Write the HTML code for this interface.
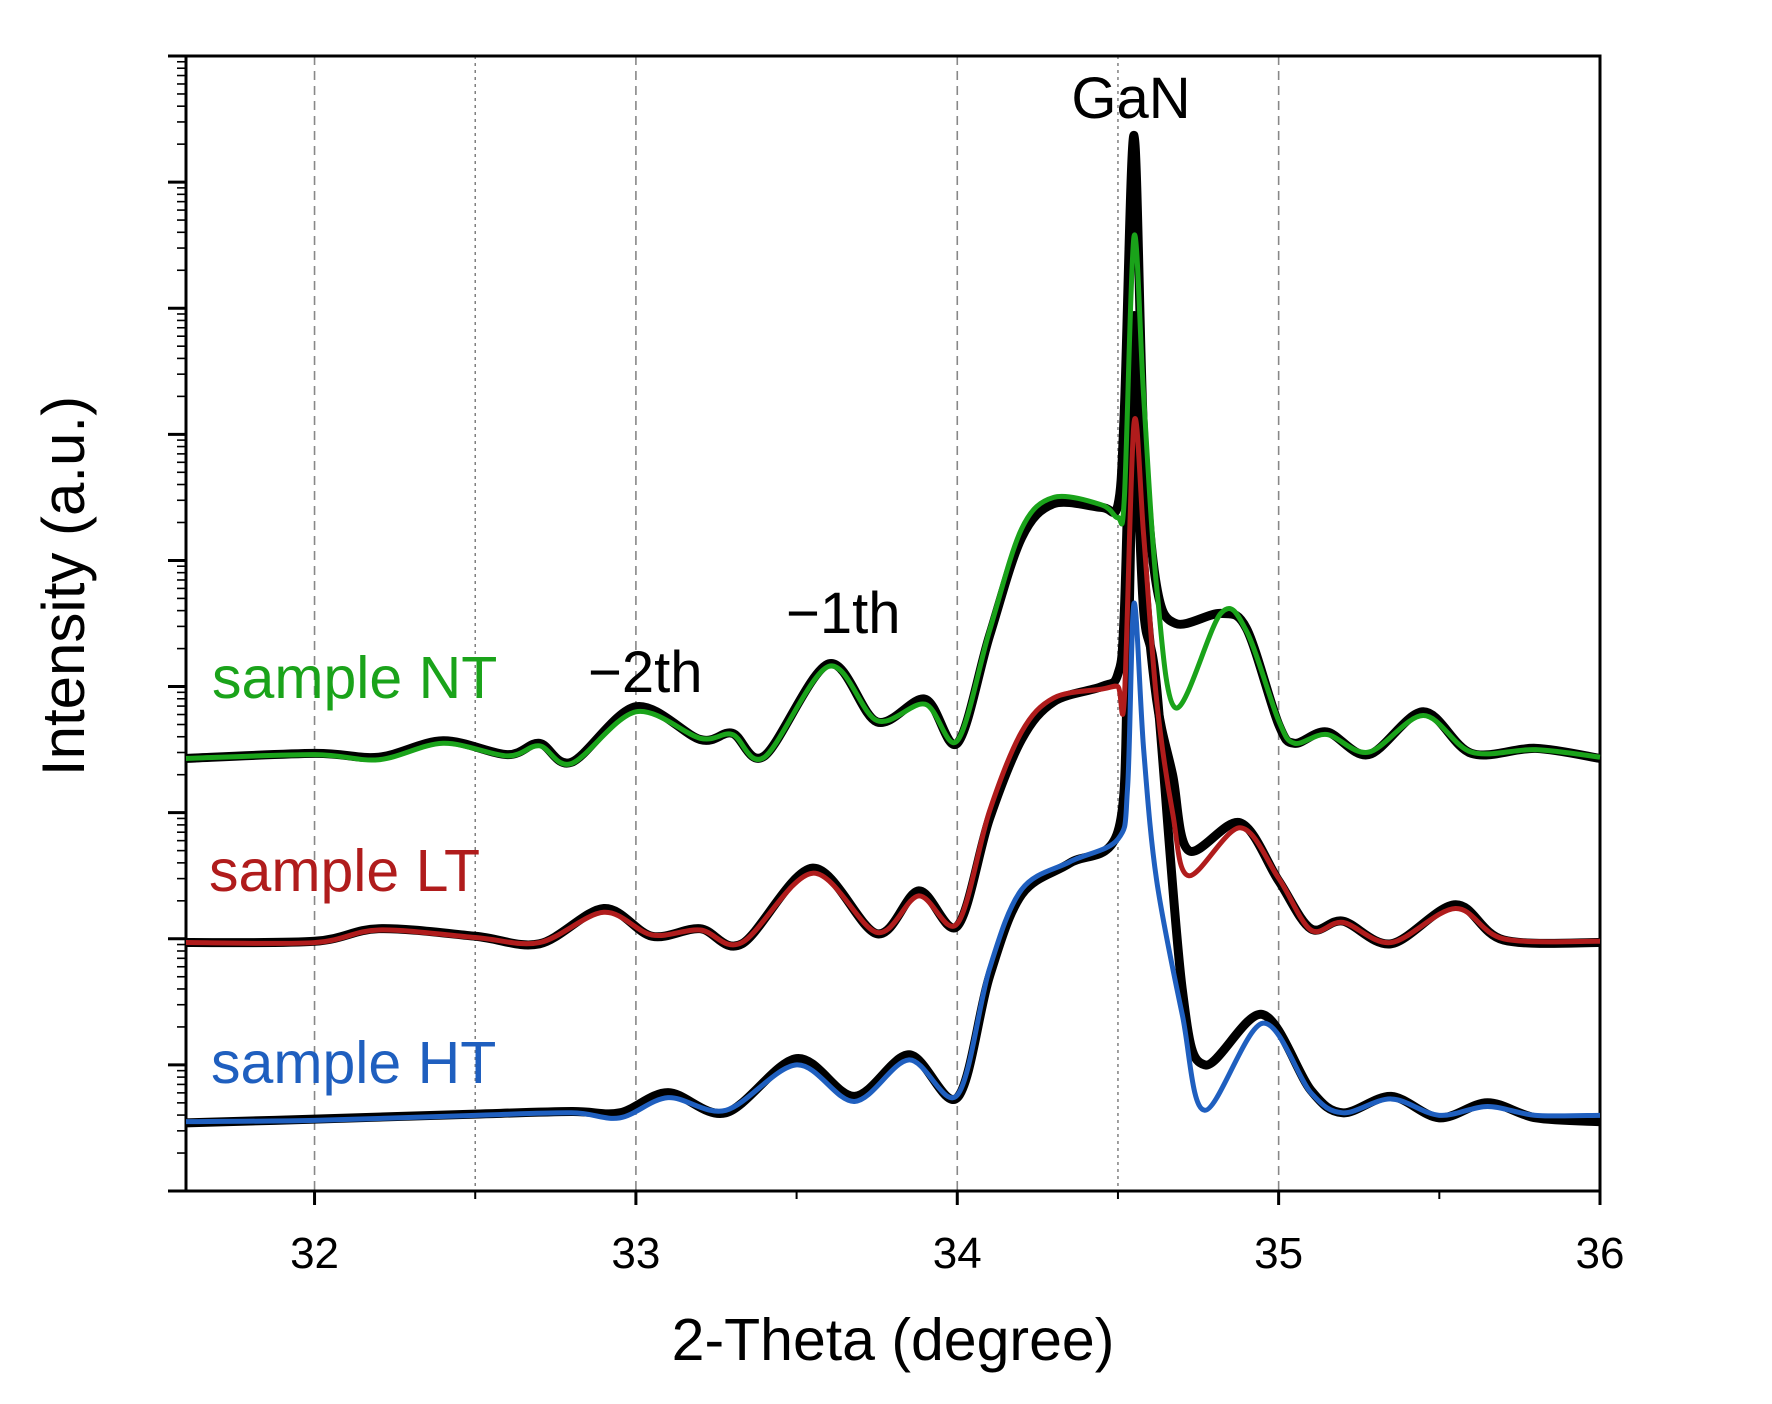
<!DOCTYPE html>
<html><head><meta charset="utf-8"><style>
html,body{margin:0;padding:0;background:#fff;}
svg{display:block;font-family:"Liberation Sans",Arial,sans-serif;}
</style></head><body>
<svg id="chart" width="1772" height="1404" viewBox="0 0 1772 1404">
<g id="grid"></g>
<g id="axes"></g>
<g id="series"></g>
<text x="1131" y="118" font-size="58" text-anchor="middle" fill="#000">GaN</text>
<text x="588" y="692" font-size="58" fill="#000">−2th</text>
<text x="786" y="633" font-size="58" fill="#000">−1th</text>
<text x="212" y="698" font-size="59" fill="#1aa31a">sample NT</text>
<text x="209" y="891" font-size="59" fill="#b01c1c">sample LT</text>
<text x="211" y="1083" font-size="59" fill="#1f5fbf">sample HT</text>
<text x="893" y="1360" font-size="59" text-anchor="middle" fill="#000">2-Theta (degree)</text>
<text transform="translate(84,586) rotate(-90)" font-size="60" text-anchor="middle" fill="#000">Intensity (a.u.)</text>
</svg>
<script>
const xTicks = [32, 33, 34, 35, 36];
const xTickLabels = ["32", "33", "34", "35", "36"];
const dashedLines = [32, 33, 34, 35];
const dottedLines = [32.5, 34.5];

const ntX = [31.6,32.0,32.2,32.4,32.6,32.7,32.8,33.0,33.2,33.3,33.4,33.6,33.75,33.9,34.0,34.1,34.2,34.3,34.45,34.5,34.52,34.55,34.58,34.62,34.68,34.82,34.9,35.0,35.05,35.15,35.28,35.45,35.6,35.8,36.0];
const ntFit = [3.43,3.46,3.42,3.55,3.45,3.53,3.39,3.80,3.59,3.62,3.44,4.16,3.73,3.86,3.57,4.44,5.25,5.50,5.44,5.34,5.5,7.57,6.3,4.8,3.83,4.58,4.44,3.73,3.55,3.62,3.48,3.77,3.48,3.50,3.44];
const ntRaw = [3.43,3.47,3.44,3.57,3.46,3.55,3.40,3.84,3.58,3.63,3.45,4.18,3.72,3.90,3.55,4.40,5.18,5.45,5.42,5.44,6.2,8.37,6.0,4.8,4.5,4.58,4.46,3.70,3.55,3.64,3.46,3.80,3.47,3.51,3.43];

const ltX = [31.6,32.0,32.2,32.5,32.7,32.9,33.05,33.2,33.33,33.55,33.75,33.88,34.0,34.1,34.2,34.3,34.45,34.5,34.52,34.55,34.58,34.62,34.67,34.72,34.88,35.0,35.1,35.2,35.35,35.55,35.7,36.0];
const ltFit = [1.97,1.97,2.07,2.01,1.97,2.21,2.03,2.07,1.97,2.52,2.05,2.34,2.12,3.01,3.64,3.91,3.98,4.0,3.91,6.09,5.2,3.9,3.0,2.5,2.88,2.48,2.07,2.13,1.97,2.24,2.0,1.98];
const ltRaw = [1.97,1.98,2.08,2.02,1.96,2.24,2.02,2.08,1.96,2.56,2.04,2.38,2.10,2.95,3.58,3.88,4.0,4.1,4.6,6.94,5.0,3.9,3.3,2.7,2.92,2.46,2.08,2.14,1.96,2.27,1.99,1.97];

const htX = [31.6,32.0,32.5,32.8,32.95,33.1,33.28,33.5,33.68,33.85,34.0,34.1,34.2,34.35,34.5,34.53,34.55,34.58,34.62,34.7,34.77,34.95,35.1,35.2,35.35,35.5,35.65,35.8,36.0];
const htFit = [0.55,0.56,0.60,0.62,0.58,0.74,0.64,1.0,0.71,1.04,0.76,1.76,2.39,2.61,2.79,3.2,4.66,3.5,2.47,1.4,0.64,1.33,0.78,0.62,0.73,0.60,0.67,0.60,0.60];
const htRaw = [0.54,0.57,0.61,0.63,0.62,0.78,0.62,1.05,0.75,1.08,0.74,1.70,2.35,2.60,2.85,4.1,6.09,4.6,4.0,1.6,1.0,1.40,0.80,0.62,0.75,0.58,0.70,0.58,0.55];

const L = 186, R = 1600, T = 56, B = 1191;
const xMin = 31.6, xMax = 36.0, decades = 9;
const xs = v => L + (v - xMin) / (xMax - xMin) * (R - L);
const ys = v => B - v / decades * (B - T);
const NS = "http://www.w3.org/2000/svg";

function mk(tag, attrs, parent) {
  const e = document.createElementNS(NS, tag);
  for (const k in attrs) e.setAttribute(k, attrs[k]);
  parent.appendChild(e);
  return e;
}

const grid = document.getElementById('grid');
dashedLines.forEach(v => {
  const l = mk('line', {x1: xs(v), x2: xs(v), y1: T, y2: B, stroke: '#888', 'stroke-width': 1.6, 'stroke-dasharray': '9 6'}, grid);
  
  
});
dottedLines.forEach(v => {
  const l = mk('line', {x1: xs(v), x2: xs(v), y1: T, y2: B, stroke: '#777', 'stroke-width': 1.4, 'stroke-dasharray': '3 4'}, grid);
  
  
});

const axes = document.getElementById('axes');
const frame = mk('rect', {x: L, y: T, width: R - L, height: B - T, fill: 'none', stroke: '#000', 'stroke-width': 3}, axes);


xTicks.forEach((v, i) => {
  const t = mk('line', {x1: xs(v), x2: xs(v), y1: B, y2: B + 14, stroke: '#000', 'stroke-width': 3}, axes);
  
  
  const tx = mk('text', {x: xs(v), y: 1268, 'font-size': 44, 'text-anchor': 'middle', fill: '#000'}, axes);
  tx.textContent = xTickLabels[i];
  
  
});
[32.5, 33.5, 34.5, 35.5].forEach(v => {
  const t = mk('line', {x1: xs(v), x2: xs(v), y1: B, y2: B + 8, stroke: '#000', 'stroke-width': 2}, axes);
  
  
});
for (let d = 0; d <= decades; d++) {
  const t = mk('line', {x1: L - 18, x2: L, y1: ys(d), y2: ys(d), stroke: '#000', 'stroke-width': 3}, axes);
  
  
  if (d < decades) {
    for (let m = 2; m <= 9; m++) {
      const yy = ys(d + Math.log10(m));
      const mt = mk('line', {x1: L - 9, x2: L, y1: yy, y2: yy, stroke: '#000', 'stroke-width': 1.6}, axes);
      
      
    }
  }
}

function pathFor(xa, ya) {
  const p = xa.map((x, i) => [xs(x), ys(ya[i])]);
  let d = 'M' + p[0][0] + ',' + p[0][1];
  for (let i = 0; i < p.length - 1; i++) {
    const p0 = p[i - 1] || p[i], p1 = p[i], p2 = p[i + 1], p3 = p[i + 2] || p2;
    const k = 0.16;
    const c1y = p1[1] + (p2[1] - p0[1]) * k, c2y = p2[1] - (p3[1] - p1[1]) * k;
    const c1x = p1[0] + (p2[0] - p0[0]) * k, c2x = p2[0] - (p3[0] - p1[0]) * k;
    d += ' C' + c1x + ',' + c1y + ' ' + c2x + ',' + c2y + ' ' + p2[0] + ',' + p2[1];
  }
  return d;
}

const series = document.getElementById('series');
[[ntX, ntRaw, 'raw-nt'], [ltX, ltRaw, 'raw-lt'], [htX, htRaw, 'raw-ht']].forEach(s => {
  const el = mk('path', {d: pathFor(s[0], s[1]), fill: 'none', stroke: '#000', 'stroke-width': 9, 'stroke-linejoin': 'round'}, series);
  
  
});
[[ntX, ntFit, '#1aa31a', 'fit-nt'], [ltX, ltFit, '#b01c1c', 'fit-lt'], [htX, htFit, '#1f5fbf', 'fit-ht']].forEach(s => {
  const el = mk('path', {d: pathFor(s[0], s[1]), fill: 'none', stroke: s[2], 'stroke-width': 5, 'stroke-linejoin': 'round'}, series);
  
  
});
</script>
</body></html>
